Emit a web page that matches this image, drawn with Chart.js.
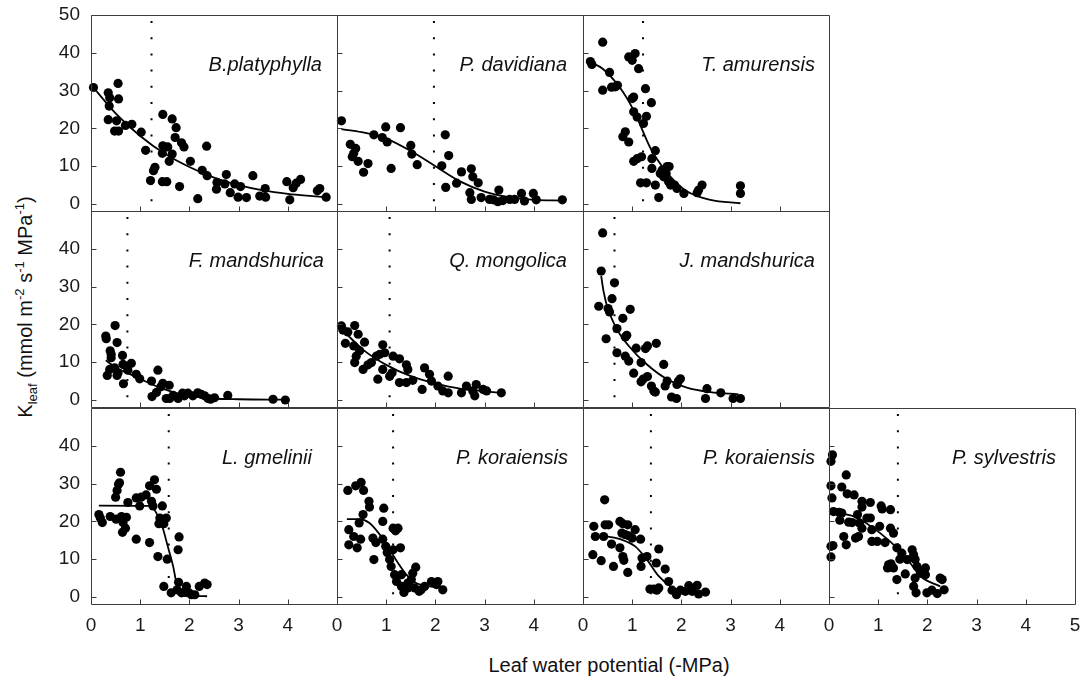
<!DOCTYPE html>
<html><head><meta charset="utf-8">
<script src="https://cdn.jsdelivr.net/npm/chart.js@4.4.1/dist/chart.umd.min.js"></script>
<style>
html,body{margin:0;padding:0;background:#fff;}
#wrap{position:relative;width:1084px;height:682px;overflow:hidden;font-family:"Liberation Sans",Arial,sans-serif;color:#111;}
#wrap canvas{position:absolute;}
.sp{position:absolute;width:220px;text-align:right;font-style:italic;font-size:20px;line-height:20px;white-space:nowrap;}
#ytitle{position:absolute;left:25px;top:307px;transform:translate(-50%,-50%) rotate(-90deg);font-size:20px;line-height:20px;white-space:nowrap;}
#xtitle{position:absolute;left:609px;top:655px;transform:translateX(-50%);font-size:20px;line-height:20px;white-space:nowrap;}
.sup{font-size:13px;position:relative;top:-8px;line-height:0;}
.sub{font-size:13px;position:relative;top:5px;line-height:0;}
</style></head>
<body>
<div id="wrap">
  <div id="ytitle">K<span class="sub">leaf</span> (mmol m<span class="sup">-2</span> s<span class="sup">-1</span> MPa<span class="sup">-1</span>)</div>
  <div id="xtitle">Leaf water potential (-MPa)</div>
</div>
<script>
// ---------- data ----------
const SPECIES = ["B.platyphylla","P. davidiana","T. amurensis","F. mandshurica","Q. mongolica","J. mandshurica","L. gmelinii","P. koraiensis","P. koraiensis","P. sylvestris"];
const THRESHOLDS = [1.23, 1.97, 1.22, 0.74, 1.07, 0.64, 1.58, 1.14, 1.38, 1.40];
const X_TICKS = [0,1,2,3,4];
const X_TICKS_LAST = [0,1,2,3,4,5];
const Y_TICKS_TOP = [0,10,20,30,40,50];
const Y_TICKS = [0,10,20,30,40];

const bPlatyphylla = [[0.05,30.8],[0.35,29.4],[0.38,28.1],[0.37,25.9],[0.55,31.9],[0.56,27.8],[0.35,22.3],[0.52,22.0],[0.48,19.3],[0.56,19.3],[0.70,20.8],[0.83,21.1],[1.02,19.0],[1.11,14.2],[1.30,9.7],[1.27,8.8],[1.21,6.2],[1.46,23.7],[1.46,15.4],[1.56,15.1],[1.45,13.4],[1.65,13.2],[1.59,11.3],[1.45,5.9],[1.54,5.9],[1.65,22.5],[1.73,20.2],[1.71,17.6],[1.84,16.2],[1.89,15.1],[1.80,4.6],[2.02,11.3],[2.17,1.4],[2.26,8.9],[2.35,15.3],[2.36,7.5],[2.56,5.7],[2.55,3.9],[2.75,7.8],[2.72,5.3],[2.83,3.0],[2.92,5.3],[2.99,1.8],[3.04,4.6],[3.16,1.7],[3.29,7.5],[3.43,2.1],[3.54,4.1],[3.55,1.8],[3.98,5.9],[4.04,1.1],[4.11,4.3],[4.17,5.5],[4.26,6.5],[4.60,3.5],[4.65,4.1],[4.78,1.8]];
const bPlatyphyllaFit = [[0.05,30.8],[0.5,24],[1,18],[1.5,13.3],[2,9.8],[2.5,7],[3,5],[3.5,3.6],[4,2.7],[4.5,2.1],[4.78,1.8]];

const pDavidiana = [[0.09,22.0],[0.27,15.8],[0.38,14.7],[0.31,12.5],[0.34,13.4],[0.43,11.3],[0.54,8.4],[0.63,10.7],[0.75,18.3],[0.92,17.6],[0.99,20.4],[1.02,16.4],[1.10,9.4],[1.29,20.2],[1.50,15.5],[1.52,13.2],[1.63,10.4],[2.13,10.1],[2.20,18.3],[2.27,12.8],[2.21,4.4],[2.43,5.5],[2.53,8.5],[2.73,9.3],[2.76,7.2],[2.87,5.6],[2.70,3.0],[2.73,1.2],[2.93,1.7],[3.10,1.2],[3.18,1.1],[3.29,3.7],[3.27,0.6],[3.37,0.9],[3.51,1.2],[3.61,1.2],[3.75,2.8],[3.81,0.8],[3.99,2.8],[4.05,1.1],[4.58,1.1]];
const pDavidianaFit = [[0.09,19.8],[0.5,19.0],[1.0,17.3],[1.5,14.0],[2.0,10.0],[2.5,6.0],[3.0,3.3],[3.5,1.8],[4.0,1.1],[4.58,0.9]];

const tAmurensis = [[0.15,37.7],[0.18,36.9],[0.40,42.8],[0.54,34.8],[0.40,30.1],[0.58,30.9],[0.70,31.4],[0.66,31.0],[0.93,38.9],[1.00,38.0],[1.06,39.8],[1.13,35.8],[1.27,30.5],[1.00,27.9],[1.03,28.3],[1.39,26.8],[1.03,24.4],[1.10,23.0],[1.29,23.2],[1.23,21.3],[0.81,17.8],[0.86,19.1],[0.93,16.4],[1.03,11.3],[1.10,12.0],[1.19,12.5],[1.47,14.1],[1.40,12.0],[1.40,9.4],[1.17,5.6],[1.29,5.6],[1.47,5.0],[1.54,1.7],[1.57,8.1],[1.61,9.0],[1.71,9.9],[1.75,9.9],[1.64,7.2],[1.74,5.9],[1.69,8.1],[1.78,5.0],[1.86,5.0],[1.91,4.1],[2.05,2.8],[2.32,3.0],[2.35,3.7],[2.42,5.0],[3.20,4.8],[3.20,2.8]];
const tAmurensisFit = [[0.15,37.5],[0.4,35.8],[0.75,30.8],[1.0,25.5],[1.1,22.8],[1.37,14.8],[1.5,12],[1.78,7.2],[2.11,3.4],[2.59,1.1],[3.2,0.2]];

const fMandshurica = [[0.30,16.9],[0.31,16.2],[0.49,19.7],[0.53,15.2],[0.39,13.0],[0.41,12.1],[0.41,11.2],[0.64,11.8],[0.38,8.1],[0.33,6.5],[0.48,8.5],[0.55,7.2],[0.53,6.5],[0.66,4.3],[0.72,9.0],[0.82,9.7],[0.75,7.9],[0.65,9.4],[0.92,6.8],[0.99,5.6],[1.23,5.0],[1.36,7.9],[1.24,0.9],[1.33,2.0],[1.46,4.4],[1.42,3.5],[1.59,3.9],[1.53,0.4],[1.60,0.4],[1.67,1.2],[1.77,0.4],[1.86,1.8],[1.90,1.1],[1.97,1.8],[2.07,1.1],[2.17,1.9],[2.24,1.5],[2.31,1.1],[2.38,0.4],[2.43,0.2],[2.51,0.6],[2.78,1.2],[3.70,0.2],[3.95,0.0]];
const fMandshuricaFit = [[0.3,10.5],[0.5,8.6],[0.85,6.5],[1.4,3.3],[1.94,1.2],[2.48,0.4],[3.0,0.2],[3.97,0.1]];

const qMongolica = [[0.09,19.6],[0.12,18.5],[0.36,19.7],[0.22,18.0],[0.43,17.4],[0.17,15.0],[0.56,15.3],[0.34,14.3],[0.46,13.0],[0.39,11.6],[0.36,9.9],[0.53,8.1],[0.63,9.3],[0.70,9.9],[0.80,11.6],[0.93,14.6],[0.87,12.1],[0.97,12.5],[0.83,5.5],[1.07,6.3],[0.93,8.1],[1.14,11.6],[1.27,10.9],[1.12,7.2],[1.41,9.3],[1.44,8.1],[1.27,4.6],[1.41,4.6],[1.54,5.2],[1.73,2.8],[1.78,8.5],[1.88,6.8],[1.92,5.0],[2.05,3.7],[2.26,6.3],[2.15,2.4],[2.26,1.9],[2.53,1.9],[2.63,3.7],[2.83,4.1],[2.76,2.4],[2.80,1.1],[2.97,2.8],[3.04,2.4],[3.34,1.9]];
const qMongolicaFit = [[0.09,19.0],[0.26,16.6],[0.56,13.0],[1.0,9.3],[1.5,6.3],[2.0,4.4],[2.5,3.0],[3.0,2.3],[3.34,1.9]];

const jMandshurica = [[0.40,44.2],[0.37,34.1],[0.64,31.0],[0.59,26.8],[0.32,24.8],[0.51,24.2],[0.54,23.3],[0.96,24.0],[0.81,21.6],[0.69,18.9],[0.47,16.2],[0.89,17.1],[0.86,16.7],[0.69,12.5],[0.86,11.6],[0.93,10.3],[1.08,13.7],[1.27,13.6],[1.31,14.3],[1.49,15.0],[1.18,9.9],[1.03,7.1],[1.64,9.4],[1.22,5.5],[1.31,6.2],[1.18,4.8],[1.39,3.7],[1.44,2.4],[1.47,2.1],[1.71,5.0],[1.67,3.7],[1.91,4.1],[1.94,5.0],[1.98,5.6],[1.80,0.8],[1.90,0.4],[2.49,0.4],[2.52,3.0],[2.80,1.9],[3.05,0.4],[3.20,0.4]];
const jMandshuricaFit = [[0.37,32.8],[0.42,28.6],[0.49,24.8],[0.69,18.7],[0.93,14.3],[1.3,9.4],[1.71,5.5],[2.11,3.3],[2.59,2.1],[3.16,1.5]];

const lGmelinii = [[0.16,21.8],[0.19,20.9],[0.23,19.7],[0.39,21.3],[0.51,20.6],[0.62,21.3],[0.72,21.1],[0.65,19.7],[0.70,18.2],[0.64,17.1],[0.60,33.0],[0.56,29.8],[0.58,30.2],[0.53,28.2],[0.50,26.4],[0.75,25.0],[0.92,26.2],[0.99,24.1],[1.02,26.4],[1.12,27.0],[1.19,29.4],[1.29,31.0],[1.33,28.5],[1.23,25.3],[1.26,24.1],[0.92,15.3],[1.19,14.4],[1.45,24.1],[1.40,20.9],[1.53,20.9],[1.38,19.4],[1.48,19.4],[1.36,10.7],[1.55,10.0],[1.79,15.9],[1.77,12.5],[1.48,2.8],[1.63,1.1],[1.78,3.9],[1.75,1.9],[1.84,1.1],[1.94,2.8],[1.90,1.2],[1.99,1.1],[2.04,0.6],[2.11,0.6],[2.20,2.8],[2.31,3.7],[2.36,3.3]];
const lGmeliniiFit = [[0.16,24.2],[1.2,24.1],[1.33,22.2],[1.46,18.2],[1.56,13.4],[1.67,8.1],[1.73,4.1],[1.8,1.2],[1.9,0.4],[2.36,0.2]];

const pKoraiensisA = [[0.22,28.2],[0.38,29.4],[0.49,30.3],[0.54,28.2],[0.65,25.3],[0.66,23.8],[0.95,23.5],[0.53,21.8],[0.45,19.6],[0.24,17.8],[0.34,16.0],[0.48,15.3],[0.24,13.8],[0.41,13.0],[0.93,20.0],[1.14,18.2],[1.24,18.2],[1.19,17.5],[0.73,15.6],[0.79,14.4],[0.93,15.3],[0.99,13.4],[0.75,9.9],[1.02,11.8],[1.14,12.5],[1.29,13.0],[1.07,9.9],[1.10,8.1],[1.17,5.9],[1.31,5.9],[1.60,7.9],[1.54,6.3],[1.51,4.6],[1.21,4.1],[1.31,2.8],[1.36,1.2],[1.44,3.7],[1.58,2.4],[1.71,1.9],[1.67,1.5],[1.78,2.8],[1.92,4.1],[2.05,4.1],[2.02,3.3],[2.15,1.9],[1.44,2.4]];
const pKoraiensisAFit = [[0.2,20.6],[0.45,20.6],[0.66,19.6],[0.87,16.5],[1.07,12.5],[1.24,9.0],[1.41,5.9],[1.58,3.9],[1.88,2.8],[2.15,2.6]];

const pKoraiensisB = [[0.44,25.7],[0.22,18.7],[0.25,16.0],[0.42,16.0],[0.45,19.1],[0.52,19.1],[0.75,20.0],[0.81,19.4],[0.91,19.1],[0.79,16.9],[0.86,16.5],[0.93,16.2],[1.06,17.8],[1.17,15.3],[1.00,15.6],[0.58,14.0],[0.75,13.0],[0.20,11.2],[0.37,9.6],[0.81,10.7],[0.83,9.7],[0.62,8.1],[0.91,6.5],[1.20,10.3],[1.30,10.7],[1.18,8.1],[1.54,12.7],[1.49,9.0],[1.67,7.4],[1.74,4.1],[1.36,2.1],[1.44,2.1],[1.54,2.4],[1.50,1.8],[1.81,1.8],[1.90,0.6],[1.98,1.8],[2.08,1.5],[2.15,3.0],[2.22,1.5],[2.32,3.1],[2.35,0.8],[2.49,1.3]];
const pKoraiensisBFit = [[0.25,16.1],[0.5,16.0],[0.76,15.3],[1.06,13.4],[1.3,9.9],[1.54,5.5],[1.78,2.8],[1.91,1.9]];

const pSylvestris = [[0.07,37.6],[0.04,35.9],[0.35,32.3],[0.04,29.4],[0.26,29.1],[0.06,26.2],[0.37,27.3],[0.51,27.0],[0.67,25.3],[0.84,25.0],[0.67,23.8],[1.06,24.1],[1.08,23.3],[1.25,23.1],[0.09,22.6],[0.20,22.4],[0.26,22.2],[0.22,20.3],[0.40,19.8],[0.47,19.7],[0.58,21.8],[0.62,19.6],[0.77,20.9],[0.84,20.9],[0.67,18.2],[0.87,17.8],[1.03,18.7],[1.25,18.2],[1.31,16.9],[0.30,16.0],[0.54,15.6],[0.60,16.0],[0.87,14.7],[0.98,14.7],[1.14,14.4],[0.04,13.4],[0.08,13.6],[0.35,13.8],[0.04,10.6],[1.38,13.0],[1.48,11.6],[1.69,12.5],[1.72,11.2],[1.59,9.9],[1.44,10.0],[1.21,8.5],[1.19,7.7],[1.26,8.8],[1.31,7.7],[1.38,4.6],[1.55,6.1],[1.75,9.9],[1.79,8.1],[1.96,7.7],[1.86,6.3],[1.96,5.9],[1.75,5.0],[1.72,2.8],[1.77,1.1],[1.99,1.1],[2.09,1.8],[2.20,0.9],[2.26,5.0],[2.34,1.9],[2.30,4.6]];
const pSylvestrisFit = [[0.07,23.0],[0.2,22.3],[0.54,21.1],[1.04,16.9],[1.45,12.1],[1.65,9.0],[1.86,5.5],[2.26,2.8]];

const POINTS = [bPlatyphylla,pDavidiana,tAmurensis,fMandshurica,qMongolica,jMandshurica,lGmelinii,pKoraiensisA,pKoraiensisB,pSylvestris];
const FITS = [bPlatyphyllaFit,pDavidianaFit,tAmurensisFit,fMandshuricaFit,qMongolicaFit,jMandshuricaFit,lGmeliniiFit,pKoraiensisAFit,pKoraiensisBFit,pSylvestrisFit];

// ---------- layout ----------
const ROW_OF = [0,0,0,1,1,1,2,2,2,2];
const COL_OF = [0,1,2,0,1,2,0,1,2,3];
const COL_LEFT = [91,337,583,829];
const ROW_TOP = [15,211,408];
const PW = 246, PH = 196;
const Y_MIN = -1.85, Y_MAX = 50, X_MIN = 0, X_MAX = 5;
const LABEL_GAP = [15,16,14,13,16,14,25,15,14,19];
const PAD = 12, YAXIS_W = 50, XAXIS_H = 40;
const FONT = '"Liberation Sans", Arial, sans-serif';

const framePlugin = {
  id: 'frame',
  afterDatasetsDraw(chart, args, opts) {
    const {ctx, chartArea: a, scales} = chart;
    const L = Math.round(a.left) + 0.5, R = Math.round(a.right) + 0.5;
    const T = Math.round(a.top) + 0.5, B = Math.round(a.bottom) + 0.5;
    ctx.save();
    ctx.strokeStyle = '#3c3c3c';
    ctx.lineWidth = 1;
    ctx.beginPath();
    ctx.rect(L, T, R - L, B - T);
    opts.xt.forEach(v => { if (v <= 0 || v >= X_MAX) return; const p = Math.round(scales.x.getPixelForValue(v)) + 0.5; ctx.moveTo(p, B); ctx.lineTo(p, B - 5); });
    opts.yt.forEach(v => { const p = Math.round(scales.y.getPixelForValue(v)) + 0.5; ctx.moveTo(L, p); ctx.lineTo(L + 5, p); });
    ctx.stroke();
    ctx.restore();
  }
};

const wrap = document.getElementById('wrap');
for (let i = 0; i < 10; i++) {
  const r = ROW_OF[i], c = COL_OF[i];
  const showY = c === 0, showX = r === 2;
  const yW = showY ? YAXIS_W : 0, xH = showX ? XAXIS_H : 0;
  const L = COL_LEFT[c], T = ROW_TOP[r];
  const cv = document.createElement('canvas');
  const W = PAD + yW + PW + PAD, H = PAD + PH + xH + PAD;
  cv.width = W; cv.height = H;
  cv.style.left = (L - PAD - yW) + 'px';
  cv.style.top = (T - PAD) + 'px';
  cv.style.width = W + 'px'; cv.style.height = H + 'px';
  wrap.appendChild(cv);

  const yTickVals = r === 0 ? Y_TICKS_TOP : Y_TICKS;
  const xTickVals = i === 9 ? X_TICKS_LAST : X_TICKS;

  new Chart(cv, {
    type: 'scatter',
    data: {
      datasets: [
        { data: [{x: THRESHOLDS[i], y: Y_MAX}, {x: THRESHOLDS[i], y: Y_MIN}], showLine: true,
          borderColor: '#000', borderWidth: 2, borderDash: [2, 14.2], borderDashOffset: -6,
          borderCapStyle: 'butt', pointRadius: 0, clip: false },
        { data: POINTS[i].map(p => ({x: p[0], y: p[1]})), pointRadius: 4.6, pointHoverRadius: 4.6,
          backgroundColor: '#000', borderColor: '#000', borderWidth: 0, clip: false },
        { data: FITS[i].map(p => ({x: p[0], y: p[1]})), showLine: true, borderColor: '#000',
          borderWidth: 1.8, pointRadius: 0, cubicInterpolationMode: 'monotone', clip: false }
      ]
    },
    options: {
      responsive: false, animation: false, devicePixelRatio: 1,
      layout: { padding: {left: PAD, right: PAD, top: PAD, bottom: PAD} },
      plugins: { legend: {display: false}, tooltip: {enabled: false}, frame: {xt: xTickVals, yt: yTickVals} },
      scales: {
        x: { type: 'linear', min: X_MIN, max: X_MAX, display: showX, position: 'bottom',
             grid: {display: false, drawTicks: false}, border: {display: false},
             ticks: {font: {size: 19, family: FONT}, color: '#1a1a1a', padding: 10, maxRotation: 0, autoSkip: false},
             afterBuildTicks: s => { s.ticks = xTickVals.map(v => ({value: v})); },
             afterFit: s => { s.height = showX ? XAXIS_H : 0; s.paddingLeft = 0; s.paddingRight = 0; } },
        y: { type: 'linear', min: Y_MIN, max: Y_MAX, display: showY, position: 'left',
             grid: {display: false, drawTicks: false}, border: {display: false},
             ticks: {font: {size: 19, family: FONT}, color: '#1a1a1a', padding: 11, autoSkip: false},
             afterBuildTicks: s => { s.ticks = yTickVals.map(v => ({value: v})); },
             afterFit: s => { s.width = showY ? YAXIS_W : 0; s.paddingTop = 0; s.paddingBottom = 0; } }
      }
    },
    plugins: [framePlugin]
  });

  const lab = document.createElement('div');
  lab.className = 'sp';
  lab.textContent = SPECIES[i];
  lab.style.left = (L + PW - LABEL_GAP[i] - 220) + 'px';
  lab.style.top = (T + 39) + 'px';
  wrap.appendChild(lab);
}
</script>
</body></html>
